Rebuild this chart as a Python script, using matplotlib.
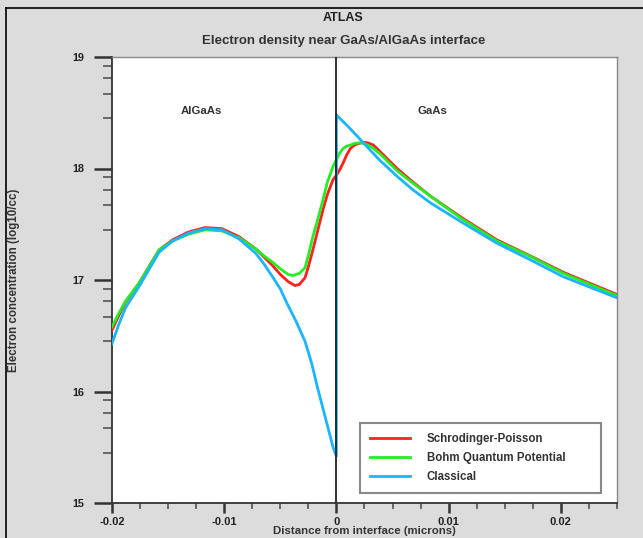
import numpy as np
import matplotlib
matplotlib.use('Agg')
import matplotlib.pyplot as plt
from matplotlib.lines import Line2D

plt.rcParams['font.family'] = ['Liberation Sans Narrow', 'Liberation Sans', 'DejaVu Sans']

# values (x in microns, y in log10/cc)
sp_x = [-0.02, -0.0194, -0.0188, -0.0176, -0.0158, -0.0146, -0.0132, -0.0117, -0.0102,
        -0.0087, -0.0072, -0.0065, -0.0057, -0.0050, -0.0043, -0.0037, -0.0033, -0.0028,
        -0.0025, -0.0021, -0.0017, -0.0012, -0.0008, -0.0003, 0.0, 0.0003, 0.0006,
        0.0009, 0.00125, 0.0016, 0.002, 0.0024, 0.0028, 0.0033, 0.0039, 0.0046, 0.0054,
        0.0068, 0.0084, 0.0113, 0.0143, 0.0173, 0.0202, 0.025]
sp_y = [16.55, 16.68, 16.80, 16.97, 17.27, 17.36, 17.43, 17.47, 17.46,
        17.39, 17.28, 17.21, 17.13, 17.05, 16.985, 16.95, 16.96, 17.02,
        17.12, 17.27, 17.43, 17.63, 17.77, 17.90, 17.94, 17.99, 18.05,
        18.12, 18.18, 18.21, 18.225, 18.235, 18.23, 18.21, 18.15, 18.08, 18.00,
        17.88, 17.75, 17.55, 17.36, 17.215, 17.07, 16.87]

bqp_x = [-0.02, -0.0194, -0.0188, -0.0176, -0.0158, -0.0146, -0.0132, -0.0117, -0.0102,
         -0.0087, -0.0072, -0.0065, -0.0057, -0.0050, -0.0043, -0.0039, -0.0033, -0.0028,
         -0.0025, -0.0021, -0.0017, -0.0012, -0.0008, -0.0003, 0.0, 0.0003, 0.0006,
         0.0009, 0.00125, 0.0016, 0.002, 0.0024, 0.0028, 0.0033, 0.0039, 0.0046, 0.0054,
         0.0068, 0.0084, 0.0113, 0.0143, 0.0173, 0.0202, 0.025]
bqp_y = [16.58, 16.70, 16.81, 16.97, 17.27, 17.35, 17.41, 17.45, 17.44,
         17.38, 17.28, 17.22, 17.16, 17.10, 17.05, 17.04, 17.06, 17.11,
         17.22, 17.39, 17.53, 17.72, 17.88, 18.02, 18.08, 18.14, 18.18,
         18.20, 18.21, 18.225, 18.23, 18.225, 18.21, 18.18, 18.13, 18.06, 17.98,
         17.87, 17.75, 17.54, 17.35, 17.21, 17.06, 16.86]

cl_x = [-0.02, -0.0194, -0.0188, -0.0176, -0.0158, -0.0146, -0.0132, -0.0117, -0.0102,
        -0.0087, -0.0072, -0.0065, -0.0057, -0.0050, -0.0044, -0.0036, -0.0028, -0.0022,
        -0.0017, -0.0010, -0.0003, 0.0, 0.0, 0.0012, 0.0024, 0.0038, 0.0054, 0.0068,
        0.0084, 0.0113, 0.0143, 0.0173, 0.0202, 0.025]
cl_y = [16.43, 16.60, 16.75, 16.94, 17.25, 17.35, 17.42, 17.46, 17.45,
        17.37, 17.24, 17.15, 17.03, 16.92, 16.79, 16.63, 16.45, 16.25,
        16.04, 15.77, 15.50, 15.42, 18.48, 18.36, 18.23, 18.08, 17.93, 17.81,
        17.69, 17.51, 17.33, 17.18, 17.03, 16.84]

labels = ['Schrodinger-Poisson', 'Bohm Quantum Potential', 'Classical']
colors = ['#ff2020', '#22ee22', '#1ab4ff']

fig = plt.figure(figsize=(6.43, 5.38), dpi=100, facecolor='#dcdcdc')
ax = fig.add_axes([112/643, 1-503/538, 505/643, 446/538])

ax.plot(sp_x, sp_y, color=colors[0], lw=2.0, label=labels[0], zorder=3,
        solid_joinstyle='round')
ax.plot(bqp_x, bqp_y, color=colors[1], lw=2.0, label=labels[1], zorder=4,
        solid_joinstyle='round')
ax.plot(cl_x, cl_y, color=colors[2], lw=2.0, label=labels[2], zorder=5,
        solid_joinstyle='round')
ax.axvline(0, color='#222222', lw=1.3, zorder=6)

ax.set_xlim(-0.02, 0.025)
ax.set_ylim(15, 19)

ax.set_xticks([-0.02, -0.01, 0, 0.01, 0.02])
ax.set_xticklabels(['-0.02', '-0.01', '0', '0.01', '0.02'])
ax.set_xticks(np.arange(-0.02, 0.0251, 0.0025), minor=True)
ax.set_yticks([15, 16, 17, 18, 19])
ax.set_yticklabels(['15', '16', '17', '18', '19'])
ax.set_yticks([d + f for d in [15, 16, 17, 18] for f in [0.45, 0.67, 0.81, 0.92]], minor=True)

ax.tick_params(axis='y', which='major', direction='out', length=13, width=1.8,
               color='#333333', labelsize=7.8, pad=7)
ax.tick_params(axis='y', which='minor', direction='out', length=6.5, width=1.2, color='#555555')
ax.tick_params(axis='x', which='major', direction='out', length=7, width=1.8,
               color='#333333', labelsize=8.0, pad=3)
ax.tick_params(axis='x', which='minor', direction='out', length=4, width=1.2, color='#555555')
for lab in ax.get_xticklabels() + ax.get_yticklabels():
    lab.set_fontweight('bold')
    lab.set_color('#222222')

for side in ['left', 'bottom']:
    ax.spines[side].set_color('#333333')
    ax.spines[side].set_linewidth(1.3)
for side in ['top', 'right']:
    ax.spines[side].set_color('#888888')
    ax.spines[side].set_linewidth(1.0)

ax.text(-0.01205, 18.52, 'AlGaAs', ha='center', va='center', fontsize=8.2,
        fontweight='bold', color='#333333')
ax.text(0.00857, 18.52, 'GaAs', ha='center', va='center', fontsize=8.2,
        fontweight='bold', color='#333333')

leg = ax.legend(loc='lower left', bbox_to_anchor=(0.491, 0.022, 0.477, 0.16),
                mode='expand', fancybox=False, edgecolor='#888888', framealpha=1,
                fontsize=8.3, handlelength=3.4, handletextpad=1.5, borderaxespad=0,
                labelspacing=0.6, borderpad=0.9)
leg.get_frame().set_linewidth(1.5)
for t in leg.get_texts():
    t.set_fontweight('bold')
    t.set_color('#333333')

fig.text(343/643, 1-18/538, 'ATLAS', ha='center', va='center', fontsize=9,
         fontweight='bold', color='#222222')
fig.text(344/643, 1-41/538, 'Electron density near GaAs/AlGaAs interface', ha='center',
         va='center', fontsize=9.5, fontweight='bold', color='#333333')
fig.text(364/643, 1-536.5/538, 'Distance from interface (microns)', ha='center',
         va='bottom', fontsize=8.2, fontweight='bold', color='#333333')
fig.text(14/643, 1-280/538, 'Electron concentration (log10/cc)', ha='center', va='center',
         rotation=90, fontsize=8.3, fontweight='bold', color='#333333')

# outer frame of the original window
fig.add_artist(Line2D([6/643, 6/643], [0, 1-8/538], color='black', lw=1.2,
                      transform=fig.transFigure))
fig.add_artist(Line2D([6/643, 1], [1-8/538, 1-8/538], color='black', lw=1.2,
                      transform=fig.transFigure))

fig.savefig('out.png', dpi=100, facecolor=fig.get_facecolor())
